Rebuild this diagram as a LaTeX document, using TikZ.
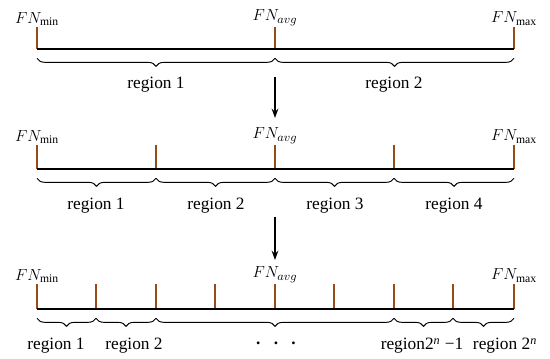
\documentclass[tikz,border=0pt]{standalone}
\usepackage{fontspec}
\setmainfont{Liberation Serif}
\usetikzlibrary{arrows.meta,decorations.pathreplacing}
\definecolor{tickbrown}{RGB}{150,75,25}

\begin{document}
\begin{tikzpicture}[x=0.75pt, y=-0.75pt,
  axis/.style={line width=1.3pt},
  tickline/.style={draw=tickbrown, line width=1.5pt},
  fnlabel/.style={anchor=south, inner sep=1pt, font=\fontsize{12.5}{15}\selectfont},
  regionbrace/.style={decorate, decoration={brace, mirror, amplitude=6pt}, line width=0.7pt},
  regionlabel/.style={inner sep=1pt, font=\fontsize{13}{15}\selectfont},
  arrow/.style={-{Stealth[length=7pt,width=5pt]}, line width=2pt}
]
\useasboundingbox (0,0) rectangle (550,358);

% Row 1: two regions
\foreach \x/\n in {37/a0, 275/a1, 514/a2} {
  \coordinate (\n) at (\x,49);
  \draw[tickline] (\n) -- ++(0,-22) coordinate (\n top);
}
\draw[axis] (a0) -- (a2);
\node[fnlabel] (fnminA) at (a0top) {$FN_{\min}$};
\node[fnlabel] (fnavgA) at (a1top) {$FN_{avg}$};
\node[fnlabel] (fnmaxA) at (a2top) {$FN_{\max}$};
\draw[regionbrace] ([yshift=-7pt]a0) -- ([yshift=-7pt]a1);
\draw[regionbrace] ([yshift=-7pt]a1) -- ([yshift=-7pt]a2);
\node[regionlabel] (regA1) at (156,85) {region 1};
\node[regionlabel] (regA2) at (394,85) {region 2};

% Arrow 1
\coordinate (arrAs) at (275,77);
\coordinate (arrAe) at (275,118);
\draw[arrow] (arrAs) -- (arrAe);

% Row 2: four regions
\foreach \x/\n in {37/b0, 156/b1, 275/b2, 394/b3, 514/b4} {
  \coordinate (\n) at (\x,169);
  \draw[tickline] (\n) -- ++(0,-24) coordinate (\n top);
}
\draw[axis] (b0) -- (b4);
\node[fnlabel] (fnminB) at (b0top) {$FN_{\min}$};
\node[fnlabel] (fnavgB) at (b2top) {$FN_{avg}$};
\node[fnlabel] (fnmaxB) at (b4top) {$FN_{\max}$};
\foreach \s/\e in {b0/b1, b1/b2, b2/b3, b3/b4}
  \draw[regionbrace] ([yshift=-7pt]\s) -- ([yshift=-7pt]\e);
\node[regionlabel] (regB1) at (96,206) {region 1};
\node[regionlabel] (regB2) at (216,206) {region 2};
\node[regionlabel] (regB3) at (335,206) {region 3};
\node[regionlabel] (regB4) at (454,206) {region 4};

% Arrow 2
\coordinate (arrBs) at (275,217);
\coordinate (arrBe) at (275,260);
\draw[arrow] (arrBs) -- (arrBe);

% Row 3: 2^n regions
\foreach \x/\n in {37/c0, 96/c1, 156/c2, 215/c3, 275/c4, 334/c5, 394/c6, 453/c7, 514/c8} {
  \coordinate (\n) at (\x,309);
  \draw[tickline] (\n) -- ++(0,-25) coordinate (\n top);
}
\draw[axis] (c0) -- (c8);
\node[fnlabel] (fnminC) at (c0top) {$FN_{\min}$};
\node[fnlabel] (fnavgC) at (c4top) {$FN_{avg}$};
\node[fnlabel] (fnmaxC) at (c8top) {$FN_{\max}$};
\foreach \s/\e in {c0/c1, c1/c2, c2/c6, c6/c7, c7/c8}
  \draw[regionbrace] ([yshift=-7pt]\s) -- ([yshift=-7pt]\e);
\node[regionlabel] (regC1) at (56,346) {region 1};
\node[regionlabel] (regC2) at (134,346) {region 2};
\node[regionlabel] (dotsC) at (276,343) {\textbf{.}\hspace{10pt}\textbf{.}\hspace{10pt}\textbf{.}};
\node[regionlabel] (regC3) at (422,346) {region2\textsuperscript{\itshape n} −1};
\node[regionlabel] (regC4) at (505,346) {region 2\textsuperscript{\itshape n}};

\end{tikzpicture}
\end{document}
